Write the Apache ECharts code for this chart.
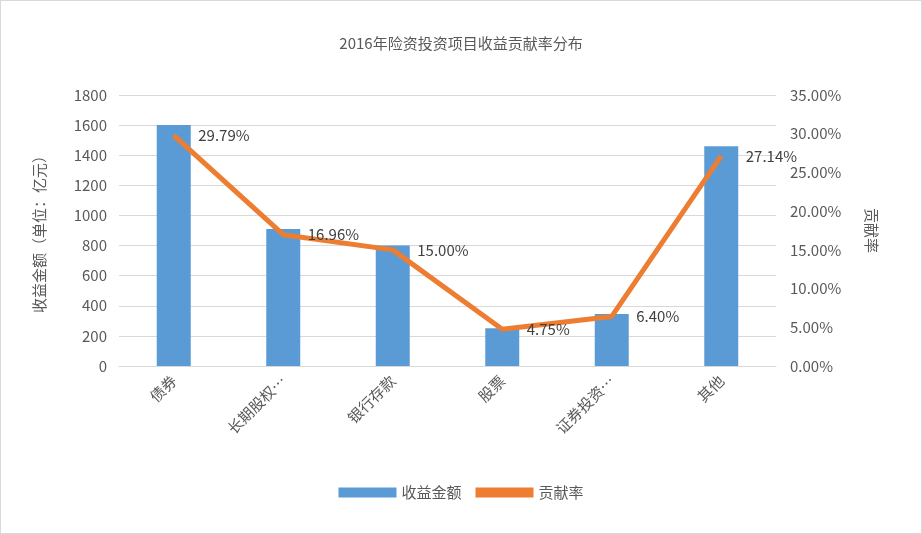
<!DOCTYPE html>
<html>
<head>
<meta charset="utf-8">
<script src="https://cdn.jsdelivr.net/npm/echarts@6/dist/echarts.min.js"></script>
<style>
html,body{margin:0;padding:0;background:#fff;}
#main{width:920px;height:532px;border:1px solid #d9d9d9;}
</style>
</head>
<body>
<div id="main"></div>
<script>
    // 数据
    var categories = ['债券', '长期股权…', '银行存款', '股票', '证券投资…', '其他'];
    var amounts = [1600, 910, 800, 250, 345, 1460];
    var rates = [29.79, 16.96, 15.00, 4.75, 6.40, 27.14];

    var font = '"Noto Sans CJK SC", "Microsoft YaHei", sans-serif';
    var myChart = echarts.init(document.getElementById('main'));

    var option = {
        textStyle: { fontFamily: font },
        title: {
            text: '2016年险资投资项目收益贡献率分布',
            left: 'center',
            top: 30,
            textStyle: { fontSize: 15, fontWeight: 'normal', color: '#595959', fontFamily: font }
        },
        legend: {
            bottom: 28,
            itemWidth: 58,
            itemHeight: 10,
            itemGap: 14,
            textStyle: { fontSize: 15, color: '#595959' },
            data: [
                { name: '收益金额', icon: 'rect' },
                { name: '贡献率', icon: 'rect' }
            ]
        },
        grid: { left: 118, right: 145, top: 94, bottom: 167 },
        xAxis: {
            type: 'category',
            data: categories,
            axisTick: { show: false },
            axisLine: { lineStyle: { color: '#d9d9d9' } },
            axisLabel: { rotate: 45, fontSize: 15, color: '#595959', margin: 12 }
        },
        yAxis: [
            {
                type: 'value',
                min: 0, max: 1800, interval: 200,
                name: '收益金额（单位：亿元）',
                nameLocation: 'middle',
                nameGap: 72,
                nameTextStyle: { fontSize: 15, color: '#595959' },
                axisLabel: { fontSize: 15, color: '#595959', margin: 12, formatter: function (v) { return String(v); } },
                splitLine: { lineStyle: { color: '#d9d9d9' } }
            },
            {
                type: 'value',
                min: 0, max: 35, interval: 5,
                name: '贡献率',
                nameLocation: 'middle',
                nameGap: 88,
                nameRotate: -90,
                nameTextStyle: { fontSize: 15, color: '#595959' },
                axisLabel: {
                    fontSize: 15, color: '#595959', margin: 14,
                    formatter: function (v) { return v.toFixed(2) + '%'; }
                },
                splitLine: { show: false }
            }
        ],
        series: [
            {
                name: '收益金额',
                type: 'bar',
                data: amounts,
                barWidth: 34,
                itemStyle: { color: '#5b9bd5' }
            },
            {
                name: '贡献率',
                type: 'line',
                yAxisIndex: 1,
                data: rates,
                symbol: 'circle',
                symbolSize: 1,
                showSymbol: true,
                lineStyle: { color: '#ed7d31', width: 5 },
                itemStyle: { color: '#ed7d31' },
                label: {
                    show: true,
                    position: 'right',
                    distance: 24,
                    fontSize: 15,
                    color: '#404040',
                    formatter: function (p) { return p.value.toFixed(2) + '%'; }
                }
            }
        ]
    };
    myChart.setOption(option);
</script>
</body>
</html>
